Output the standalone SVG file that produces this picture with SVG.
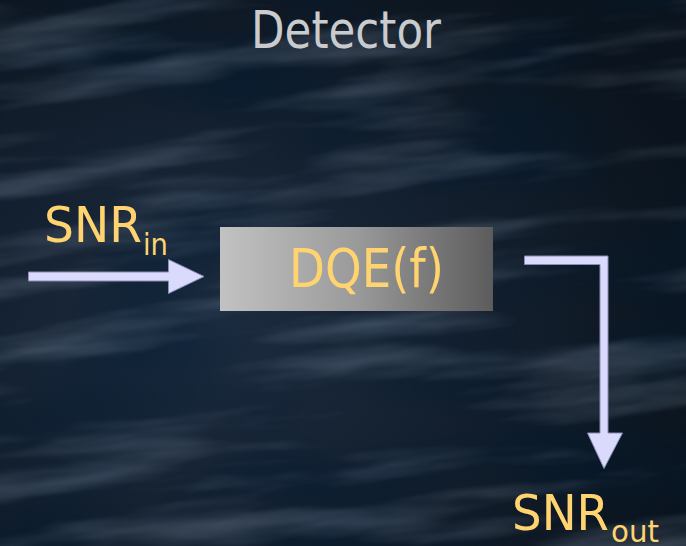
<svg xmlns="http://www.w3.org/2000/svg" width="686" height="546" viewBox="0 0 686 546">
  <defs>
    <style>
      .title { font-family: "DejaVu Sans", "Liberation Sans", sans-serif; fill: #c9cbce; }
      .lbl { font-family: "DejaVu Sans", "Liberation Sans", sans-serif; fill: #ffd470; }
      .arrow { fill: #dadafc; stroke: #8c8cb4; stroke-width: 1; stroke-linejoin: miter; }
    </style>
    <linearGradient id="boxFill" x1="0" y1="0" x2="1" y2="0">
      <stop offset="0" stop-color="#c2c2c2"/>
      <stop offset="0.5" stop-color="#9a9a9a"/>
      <stop offset="1" stop-color="#5c5c5c"/>
    </linearGradient>
    <radialGradient id="glow" cx="0.3" cy="0.6" r="0.75">
      <stop offset="0" stop-color="#1c2c40"/>
      <stop offset="1" stop-color="#0b141e"/>
    </radialGradient>
    <!-- stretched noise for the rippled water backdrop -->
    <filter id="ripples" x="0" y="0" width="100%" height="100%">
      <feTurbulence type="fractalNoise" baseFrequency="0.004 0.03" numOctaves="4" seed="11" result="n"/>
      <feColorMatrix in="n" type="matrix" values="0 0 0 0 0.38  0 0 0 0 0.48  0 0 0 0 0.62  1.7 0 0 0 -0.8"/>
      <feGaussianBlur stdDeviation="0.8"/>
    </filter>
    <filter id="shade" x="0" y="0" width="100%" height="100%">
      <feTurbulence type="fractalNoise" baseFrequency="0.005 0.011" numOctaves="2" seed="3" result="m"/>
      <feColorMatrix in="m" type="matrix" values="0 0 0 0 0.0  0 0 0 0 0.01  0 0 0 0 0.03  -2 0 0 0 1.15"/>
    </filter>
  </defs>

  <!-- backdrop -->
  <rect width="686" height="546" fill="url(#glow)"/>
  <g transform="rotate(-6 343 273)">
    <rect x="-80" y="-80" width="846" height="706" filter="url(#shade)" opacity="0.6"/>
    <rect x="-80" y="-80" width="846" height="706" filter="url(#ripples)" opacity="0.4"/>
  </g>

  <g id="title">
    <text class="title" x="251" y="48" font-size="51" textLength="190" lengthAdjust="spacingAndGlyphs">Detector</text>
  </g>

  <g id="connectors">
    <!-- input arrow -->
    <path class="arrow" d="M28.5,272 H168.5 V259.5 L204,276.5 L168.5,293.5 V281 H28.5 Z"/>
    <!-- output arrow, elbow then down -->
    <path class="arrow" d="M524.5,256 H608 V433 H622.5 L604,468.5 L587.5,433 H600 V264.5 H524.5 Z"/>
  </g>

  <g id="node-dqe">
    <rect x="220" y="227" width="273" height="84" fill="url(#boxFill)"/>
    <text class="lbl" x="289" y="287" font-size="53" textLength="155" lengthAdjust="spacingAndGlyphs">DQE(f)</text>
  </g>

  <g id="label-snr-in">
    <text class="lbl" x="44" y="242" font-size="50" textLength="98" lengthAdjust="spacingAndGlyphs">SNR</text>
    <text class="lbl" x="143" y="255" font-size="30" textLength="25" lengthAdjust="spacingAndGlyphs">in</text>
  </g>

  <g id="label-snr-out">
    <text class="lbl" x="512" y="530" font-size="50" textLength="97" lengthAdjust="spacingAndGlyphs">SNR</text>
    <text class="lbl" x="611" y="542" font-size="30" textLength="48" lengthAdjust="spacingAndGlyphs">out</text>
  </g>
</svg>
